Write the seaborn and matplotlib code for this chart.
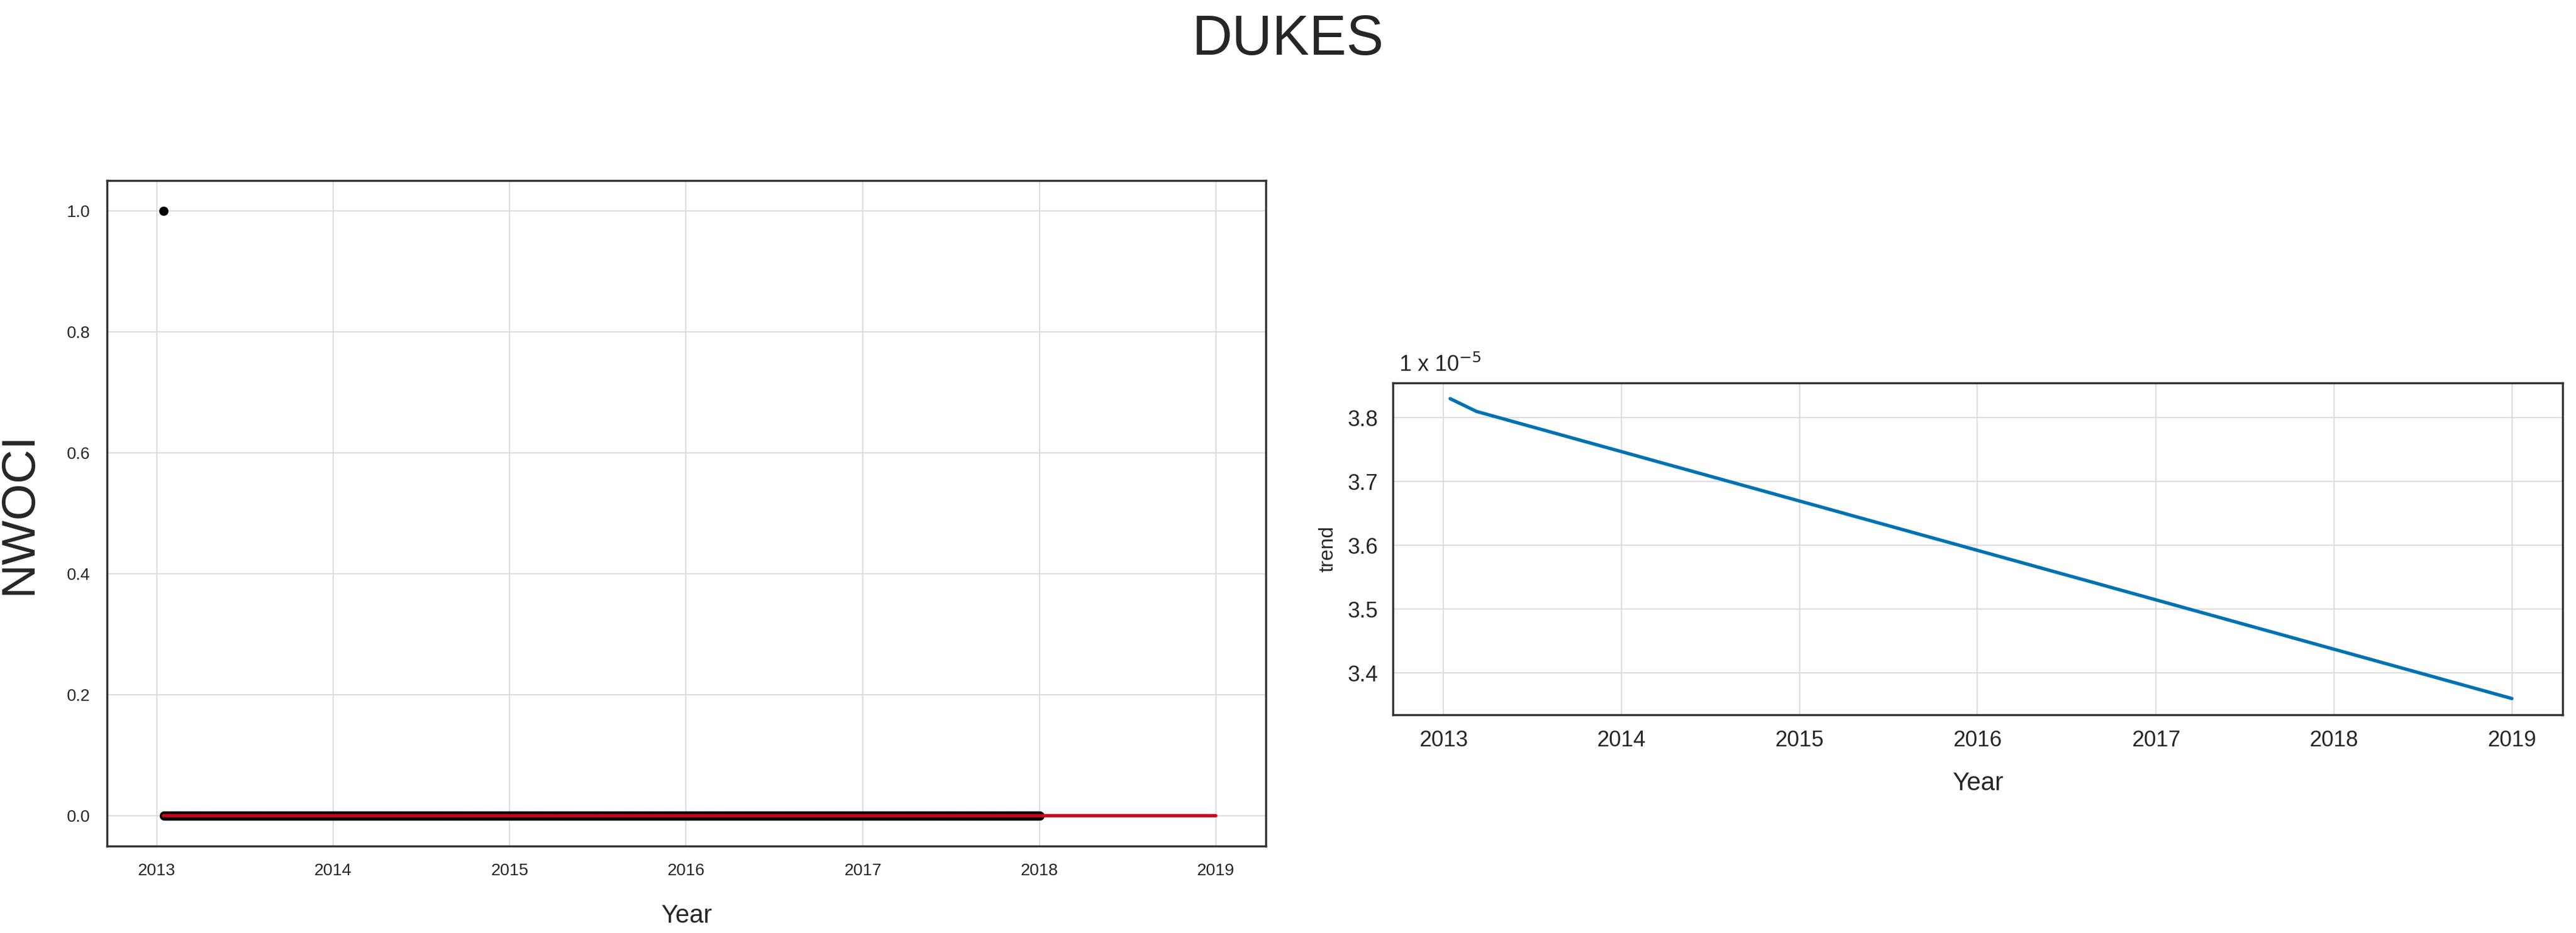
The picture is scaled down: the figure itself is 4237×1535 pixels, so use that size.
import numpy as np
import pandas as pd
import matplotlib
matplotlib.use("Agg")
import matplotlib.pyplot as plt
import matplotlib.dates as mdates
import seaborn as sns

sns.set_style("white")
plt.rcParams['font.family'] = ['Liberation Sans', 'DejaVu Sans']

title = "DUKES"
obs_start, obs_end = "2013-01-15", "2018-01-01"
fc_end = "2019-01-01"
first_value = 1.0
other_value = 0.0
trend_dates = ["2013-01-15", "2013-03-10", "2019-01-01"]
trend_values = [3.83, 3.81, 3.36]

obs_dates = pd.date_range(obs_start, obs_end, freq="D")
obs_vals = np.full(len(obs_dates), other_value)
obs_vals[0] = first_value
obs = pd.DataFrame({"ds": obs_dates, "y": obs_vals})
fc_dates = pd.date_range(obs_start, fc_end, freq="D")
fc = pd.DataFrame({"ds": fc_dates, "yhat": np.full(len(fc_dates), other_value)})
tr = pd.DataFrame({"ds": pd.to_datetime(trend_dates), "trend": trend_values})

fig = plt.figure(figsize=(42.37, 15.35), dpi=100)
ax1 = fig.add_axes([0.0415, 0.0933, 0.450, 0.713])
ax2 = fig.add_axes([0.5408, 0.2342, 0.454, 0.3556])

sns.scatterplot(data=obs, x="ds", y="y", ax=ax1, color="black", s=120, edgecolor="black", linewidth=0, zorder=2)
sns.lineplot(data=fc, x="ds", y="yhat", ax=ax1, color="#d0021b", linewidth=4, zorder=3)
ax1.set_ylim(-0.05, 1.05)
ax1.set_yticks([0.0, 0.2, 0.4, 0.6, 0.8, 1.0])
ax1.set_ylabel("NWOCI", fontsize=56, labelpad=30)
ax1.set_xlabel("Year", fontsize=30, labelpad=30)
ax1.tick_params(labelsize=20, length=6, width=2, pad=14)

sns.lineplot(data=tr, x="ds", y="trend", ax=ax2, color="#0072b2", linewidth=4)
ax2.set_yticks([3.4, 3.5, 3.6, 3.7, 3.8])
ax2.set_ylim(3.335, 3.855)
ax2.set_ylabel("trend", fontsize=24, labelpad=12)
ax2.set_xlabel("Year", fontsize=30, labelpad=24)
ax2.tick_params(labelsize=26, length=6, width=2, pad=12)
ax2.text(0.005, 1.02, r"1 x 10$^{-5}$", transform=ax2.transAxes, fontsize=26, va="bottom")

for ax in (ax1, ax2):
    ax.set_xlim(pd.Timestamp("2012-09-20"), pd.Timestamp("2019-04-15"))
    ax.xaxis.set_major_locator(mdates.YearLocator())
    ax.xaxis.set_major_formatter(mdates.DateFormatter("%Y"))
    ax.grid(True, color="#dddddd", linewidth=1.5)
    for s in ax.spines.values():
        s.set_visible(True)
        s.set_color("#333333")
        s.set_linewidth(2.5)

fig.suptitle(title, fontsize=66, y=0.985)
fig.savefig("out.png", dpi=100)
